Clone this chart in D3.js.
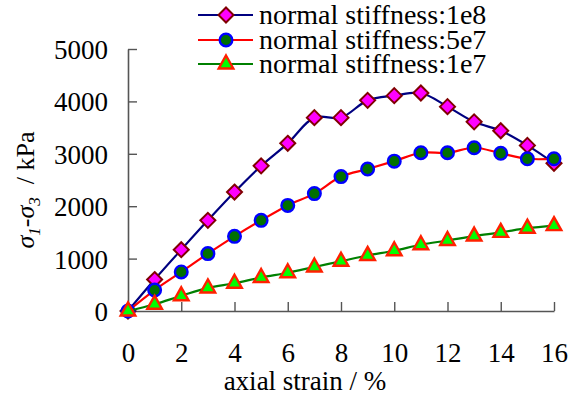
<!DOCTYPE html>
<html>
<head>
<meta charset="utf-8">
<script src="https://cdn.jsdelivr.net/npm/d3@7"></script>
<style>
  html, body { margin: 0; padding: 0; background: #fff; }
</style>
</head>
<body>
<svg id="chart" width="570" height="401"></svg>
<script>
// Axial strain (%) at each sample point
const strain = [0, 1, 2, 3, 4, 5, 6, 7, 8, 9, 10, 11, 12, 13, 14, 15, 16];

// Deviatoric stress (kPa) for each normal stiffness
const stiff1e8 = [0, 600, 1170, 1730, 2270, 2770, 3200, 3690, 3690, 4020, 4110, 4160, 3900, 3610, 3440, 3160, 2820];
const stiff5e7 = [0, 400, 745, 1095, 1425, 1730, 2015, 2240, 2565, 2710, 2860, 3020, 3020, 3115, 3010, 2905, 2905];
const stiff1e7 = [0, 130, 290, 440, 530, 640, 730, 840, 950, 1060, 1150, 1265, 1345, 1430, 1500, 1580, 1630];

const seriesNames = ["normal stiffness:1e8", "normal stiffness:5e7", "normal stiffness:1e7"];
const xTicks = [0, 2, 4, 6, 8, 10, 12, 14, 16];
const yTicks = [0, 1000, 2000, 3000, 4000, 5000];

const series = [
  { name: seriesNames[0], values: stiff1e8, line: "#000080", marker: "diamond", fill: "#ff00ff", stroke: "#800000" },
  { name: seriesNames[1], values: stiff5e7, line: "#ff0000", marker: "circle", fill: "#007000", stroke: "#0000ff" },
  { name: seriesNames[2], values: stiff1e7, line: "#008000", marker: "triangle", fill: "#00ff00", stroke: "#ff2000" }
];

const serif = "Liberation Serif";
const svg = d3.select("#chart");
const plot = { left: 128, right: 554, top: 49, bottom: 311 };

const x = d3.scaleLinear().domain([0, 16]).range([plot.left, plot.right]);
const y = d3.scaleLinear().domain([0, 5000]).range([plot.bottom, plot.top]);

const axisColor = "#555";
const fontSize = 27;

function label(sel, size = fontSize) {
  return sel.attr("font-family", serif).style("font-family", serif)
    .attr("font-size", size).style("font-size", size + "px").attr("fill", "#000");
}

// X axis with inward ticks
const gx = svg.append("g").attr("transform", `translate(0,${plot.bottom})`)
  .call(d3.axisBottom(x).tickValues(xTicks).tickSizeInner(-9).tickSizeOuter(0).tickPadding(0).tickFormat(d3.format("d")))
  .attr("font-family", serif);
gx.select(".domain").attr("stroke", axisColor).attr("stroke-width", 1.6);
gx.selectAll(".tick line").attr("stroke", axisColor).attr("stroke-width", 1.4);
gx.selectAll(".tick text").remove();
gx.selectAll(".tick").append("text")
  .attr("y", 51).attr("text-anchor", "middle")
  .call(label).text(d => d);

// Y axis with inward ticks
const gy = svg.append("g").attr("transform", `translate(${plot.left},0)`)
  .call(d3.axisLeft(y).tickValues(yTicks).tickSizeInner(-9).tickSizeOuter(0).tickPadding(0).tickFormat(d3.format("d")))
  .attr("font-family", serif);
gy.select(".domain").attr("stroke", axisColor).attr("stroke-width", 1.6);
gy.selectAll(".tick line").attr("stroke", axisColor).attr("stroke-width", 1.4)
  .filter(d => d === 0).remove();
gy.selectAll(".tick text").remove();
gy.selectAll(".tick").append("text")
  .attr("x", -20).attr("dy", "0.35em").attr("text-anchor", "end")
  .call(label).text(d => d);

// Axis titles
svg.append("text")
  .attr("x", (plot.left + plot.right) / 2 - 36).attr("y", 390)
  .attr("text-anchor", "middle").call(label)
  .text("axial strain / %");

const yt = svg.append("text")
  .attr("transform", "translate(34,190) rotate(-90)")
  .attr("text-anchor", "middle").call(label, 26);
yt.append("tspan").style("font-style", "italic").text("σ");
yt.append("tspan").style("font-style", "italic").style("font-size", "17px").attr("dy", 6).text("1");
yt.append("tspan").attr("dy", -6).text("-");
yt.append("tspan").style("font-style", "italic").text("σ");
yt.append("tspan").style("font-style", "italic").style("font-size", "17px").attr("dy", 6).text("3");
yt.append("tspan").attr("dy", -6).text("\u00a0 / kPa");

// Marker shapes
function drawMarker(g, type, fill, stroke) {
  if (type === "diamond") {
    g.append("path").attr("d", "M0,-7.5L7.5,0L0,7.5L-7.5,0Z")
      .attr("fill", fill).attr("stroke", stroke).attr("stroke-width", 2);
  } else if (type === "circle") {
    g.append("circle").attr("r", 6.3)
      .attr("fill", fill).attr("stroke", stroke).attr("stroke-width", 2.4);
  } else {
    g.append("path").attr("d", "M0,-8.5L7.3,4.5L-7.3,4.5Z")
      .attr("fill", fill).attr("stroke", stroke).attr("stroke-width", 2.4)
      .attr("stroke-linejoin", "miter");
  }
}

const line = d3.line()
  .x((d, i) => x(strain[i]))
  .y(d => y(d))
  .curve(d3.curveCatmullRom.alpha(0.5));

series.forEach(s => {
  const g = svg.append("g");
  g.append("path").datum(s.values)
    .attr("d", line).attr("fill", "none")
    .attr("stroke", s.line).attr("stroke-width", 2.2);
  g.selectAll("g.m").data(s.values).join("g")
    .attr("transform", (d, i) => `translate(${x(strain[i])},${y(d)})`)
    .each(function () { drawMarker(d3.select(this), s.marker, s.fill, s.stroke); });
});

// Legend
const legendRows = [15, 40, 64];
series.forEach((s, i) => {
  const g = svg.append("g").attr("transform", `translate(0,${legendRows[i]})`);
  g.append("line").attr("x1", 198).attr("x2", 253).attr("y1", 0).attr("y2", 0)
    .attr("stroke", s.line).attr("stroke-width", 2.2);
  const m = g.append("g").attr("transform", "translate(226,0)");
  drawMarker(m, s.marker, s.fill, s.stroke);
  g.append("text").attr("x", 259).attr("y", 9)
    .call(label, 28).text(s.name);
});
</script>
</body>
</html>
